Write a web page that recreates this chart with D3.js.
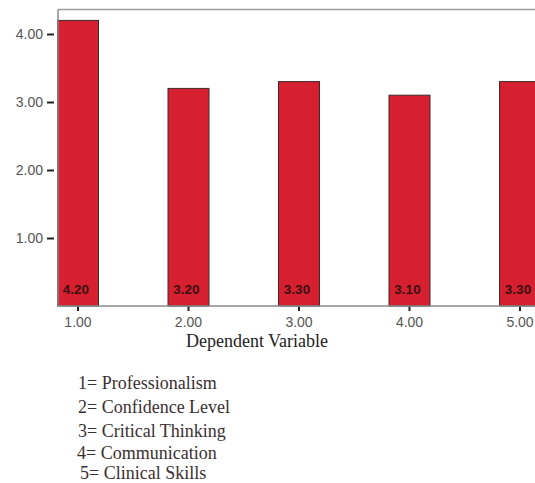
<!DOCTYPE html>
<html>
<head>
<meta charset="utf-8">
<script src="https://cdn.jsdelivr.net/npm/d3@7"></script>
<style>
  html, body { margin: 0; padding: 0; background: #fff; }
  svg { display: block; }
</style>
</head>
<body>
<div id="chart"></div>
<script>
// chart values
const categories = ["1.00", "2.00", "3.00", "4.00", "5.00"];
const means = [4.20, 3.20, 3.30, 3.10, 3.30];
const valueLabels = ["4.20", "3.20", "3.30", "3.10", "3.30"];
const yTicks = [1, 2, 3, 4];
const xTitle = "Dependent Variable";
const legendLines = [
  "1= Professionalism",
  "2= Confidence Level",
  "3= Critical Thinking",
  "4= Communication",
  "5= Clinical Skills"
];

const W = 535, H = 483;
const margin = { top: 9.5, left: 58, bottom: 306 };

const svg = d3.select("#chart")
  .append("svg")
  .attr("width", W)
  .attr("height", H);

// scales
const x = d3.scaleBand()
  .domain(categories)
  .range([57.5, 540.5])
  .paddingInner(0.629)
  .paddingOuter(0);

const y = d3.scaleLinear()
  .domain([0, 4.2])
  .range([margin.bottom, margin.bottom - 4.2 * 68]);

// frame: top border
svg.append("line")
  .attr("x1", margin.left).attr("x2", W)
  .attr("y1", margin.top).attr("y2", margin.top)
  .attr("stroke", "#9a9a9a").attr("stroke-width", 1.5);

// bars
svg.selectAll(".bar")
  .data(means)
  .enter().append("rect")
  .attr("class", "bar")
  .attr("x", (d, i) => x(categories[i]))
  .attr("y", d => y(d))
  .attr("width", x.bandwidth())
  .attr("height", d => y(0) - y(d))
  .attr("fill", "#d62030")
  .attr("stroke", "#3a2a2a")
  .attr("stroke-width", 1);

// value labels at the bottom of the bars
svg.selectAll(".val")
  .data(valueLabels)
  .enter().append("text")
  .attr("class", "val")
  .attr("x", (d, i) => x(categories[i]) + x.bandwidth() / 2 - 2)
  .attr("y", 294)
  .attr("text-anchor", "middle")
  .attr("font-family", "Liberation Sans, Arial, sans-serif")
  .attr("font-size", 13.5)
  .attr("font-weight", "bold")
  .attr("fill", "#3a1010")
  .text(d => d);

// y axis
const yAxis = svg.append("g")
  .attr("transform", `translate(${margin.left},0)`)
  .call(d3.axisLeft(y).tickValues(yTicks).tickFormat(d3.format(".2f")).tickSize(0).tickPadding(15));
yAxis.select(".domain").remove();
yAxis.selectAll("text")
  .attr("font-family", "Liberation Sans, Arial, sans-serif")
  .attr("font-size", 14)
  .attr("fill", "#555");
yAxis.selectAll(".tick").append("line")
  .attr("x1", -11).attr("x2", -4)
  .attr("stroke", "#222").attr("stroke-width", 2);

svg.append("line")
  .attr("x1", margin.left).attr("x2", margin.left)
  .attr("y1", margin.top).attr("y2", margin.bottom)
  .attr("stroke", "#8a8a8a").attr("stroke-width", 1.5);

// x axis
const xAxis = svg.append("g")
  .attr("transform", `translate(0,${margin.bottom})`)
  .call(d3.axisBottom(x).tickSize(0).tickPadding(11));
xAxis.select(".domain").remove();
xAxis.selectAll("text")
  .attr("font-family", "Liberation Sans, Arial, sans-serif")
  .attr("font-size", 14)
  .attr("fill", "#555");
xAxis.selectAll(".tick").append("line")
  .attr("y1", 0).attr("y2", 5)
  .attr("stroke", "#222").attr("stroke-width", 2);

svg.append("line")
  .attr("x1", margin.left).attr("x2", W)
  .attr("y1", margin.bottom).attr("y2", margin.bottom)
  .attr("stroke", "#8a8a8a").attr("stroke-width", 1.5);

// axis title
svg.append("text")
  .attr("x", 257)
  .attr("y", 347)
  .attr("text-anchor", "middle")
  .attr("font-family", "Liberation Serif, Times New Roman, serif")
  .attr("font-size", 18)
  .attr("fill", "#222")
  .text(xTitle);

// legend lines
const legendY = [389, 413, 437, 459, 479];
const legendX = [78, 78, 78, 77, 80];
svg.selectAll(".leg")
  .data(legendLines)
  .enter().append("text")
  .attr("class", "leg")
  .attr("x", (d, i) => legendX[i])
  .attr("y", (d, i) => legendY[i])
  .attr("font-family", "Liberation Serif, Times New Roman, serif")
  .attr("font-size", 18)
  .attr("fill", "#3a3030")
  .text(d => d);
</script>
</body>
</html>
